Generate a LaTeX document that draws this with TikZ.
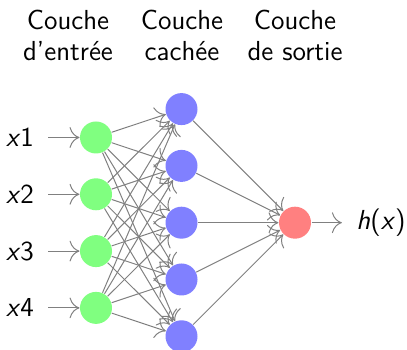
\documentclass[tikz,border=0pt]{standalone}
\usetikzlibrary{arrows.meta}
\begin{document}
\begin{tikzpicture}[x=0.4pt,y=-0.4pt,
  font=\sffamily\fontsize{11}{12.4}\selectfont,
  neuron/.style={circle,minimum size=12.8pt,inner sep=0pt},
  inneuron/.style={neuron,fill=green!50},
  hidneuron/.style={neuron,fill=blue!50},
  outneuron/.style={neuron,fill=red!50},
  arr/.style={-{To[scale=1.6]},draw=black!50},
  lab/.style={inner sep=0pt},
  head/.style={align=center,inner sep=0pt}]
\useasboundingbox (0,0) rectangle (407,350);
% layer titles
\node[head] (t1) at (68,35) {Couche\\d'entrée};
\node[head] (t2) at (182,35) {Couche\\cachée};
\node[head] (t3) at (295,35) {Couche\\de sortie};
% input layer with its inputs
\foreach \i/\y in {1/137.5,2/194.3,3/251.1,4/307.9}{
  \node[inneuron] (i\i) at (96,\y) {};
  \node[lab] (l\i) at (20,\y) {\textsl{x}\i};
  \draw[arr] ([xshift=5.6pt]l\i.east) -- (i\i);
}
% hidden layer
\foreach \j/\y in {1/109.1,2/165.9,3/222.7,4/279.5,5/336.3}{
  \node[hidneuron] (h\j) at (181.5,\y) {};
}
% output layer
\node[outneuron] (o) at (295,222.7) {};
\node[lab] (hx) at (381,222.7) {\textsl{h}(\textsl{x})};
\draw[arr] (o) -- ([xshift=-5.6pt]hx.west);
% connections
\foreach \i in {1,...,4}
  \foreach \j in {1,...,5}
    \draw[arr] (i\i) -- (h\j);
\foreach \j in {1,...,5}
  \draw[arr] (h\j) -- (o);
\end{tikzpicture}
\end{document}
